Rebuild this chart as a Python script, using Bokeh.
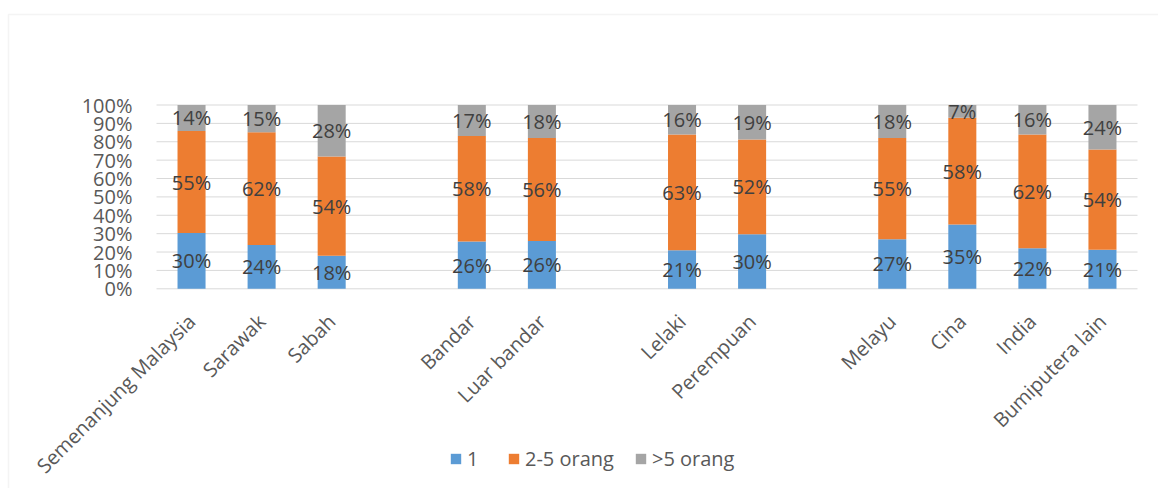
from bokeh.plotting import figure
from bokeh.models import (ColumnDataSource, FixedTicker, NumeralTickFormatter,
                          Legend, LegendItem, LabelSet, BoxAnnotation, Range1d)
from bokeh.core.properties import value
from bokeh.embed import file_html
from bokeh.resources import INLINE

# Household size shares (%) by breakdown
regions = ["Semenanjung Malaysia", "Sarawak", "Sabah"]
strata = ["Bandar", "Luar bandar"]
sexes = ["Lelaki", "Perempuan"]
ethnicities = ["Melayu", "Cina", "India", "Bumiputera lain"]

one_person = [30, 24, 18, 26, 26, 21, 30, 27, 35, 22, 21]
two_to_five = [55, 62, 54, 58, 56, 63, 52, 55, 58, 62, 54]
over_five = [14, 15, 28, 17, 18, 16, 19, 18, 7, 16, 24]

series_names = ["1", "2-5 orang", ">5 orang"]
y_ticks = [0.0, 0.1, 0.2, 0.3, 0.4, 0.5, 0.6, 0.7, 0.8, 0.9, 1.0]

# Slot positions: one empty slot between groups
groups = [regions, strata, sexes, ethnicities]
categories, xs = [], []
slot = 0
for g in groups:
    for c in g:
        categories.append(c)
        xs.append(slot)
        slot += 1
    slot += 1
x_lo, x_hi = -0.5, xs[-1] + 0.5

# Canvas geometry: the frame fills the whole canvas, the plot area sits inside
W, H = 1158, 488
AREA_L, AREA_R, AREA_T, AREA_B = 156, 1137, 104.5, 288.3
ppx = (AREA_R - AREA_L) / (x_hi - x_lo)
ppy = AREA_B - AREA_T
x_range = Range1d(x_lo - AREA_L / ppx, x_hi + (W - AREA_R) / ppx)
y_range = Range1d(-(H - AREA_B) / ppy, 1 + AREA_T / ppy)

# 100% stacking
totals = [a + b + c for a, b, c in zip(one_person, two_to_five, over_five)]
f1 = [a / t for a, t in zip(one_person, totals)]
f2 = [b / t for b, t in zip(two_to_five, totals)]
f3 = [c / t for c, t in zip(over_five, totals)]
top1 = f1
top2 = [a + b for a, b in zip(f1, f2)]
top3 = [a + b + c for a, b, c in zip(f1, f2, f3)]

src = ColumnDataSource(dict(
    x=xs,
    b0=[0.0] * len(xs), t1=top1, t2=top2, t3=top3,
    m1=[t / 2 for t in top1],
    m2=[(a + b) / 2 for a, b in zip(top1, top2)],
    m3=[(a + b) / 2 for a, b in zip(top2, top3)],
    l1=[f"{v}%" for v in one_person],
    l2=[f"{v}%" for v in two_to_five],
    l3=[f"{v}%" for v in over_five],
))

FONT = "Open Sans"
colors = ["#5B9BD5", "#ED7D31", "#A5A5A5"]

p = figure(width=W, height=H, output_backend="svg", toolbar_location=None,
           x_range=x_range, y_range=y_range,
           min_border=0, min_border_left=0, min_border_right=0,
           min_border_top=0, min_border_bottom=0)
p.outline_line_color = None
p.background_fill_color = "white"
p.border_fill_color = "white"
p.xgrid.grid_line_color = None
p.ygrid.grid_line_color = None

# Horizontal gridlines across the plot area
p.segment(x0=[x_lo] * len(y_ticks), x1=[x_hi] * len(y_ticks),
          y0=y_ticks, y1=y_ticks, line_color="#D9D9D9", line_width=1)

r1 = p.vbar(x="x", bottom="b0", top="t1", width=0.4, source=src,
            fill_color=colors[0], line_color=None)
r2 = p.vbar(x="x", bottom="t1", top="t2", width=0.4, source=src,
            fill_color=colors[1], line_color=None)
r3 = p.vbar(x="x", bottom="t2", top="t3", width=0.4, source=src,
            fill_color=colors[2], line_color=None)

for ycol, tcol in (("m1", "l1"), ("m2", "l2"), ("m3", "l3")):
    p.add_layout(LabelSet(x="x", y=ycol, text=tcol, source=src,
                          text_align="center", text_baseline="middle",
                          text_font=value(FONT), text_font_size="20px",
                          text_color="#404040"))

# Axes pinned to the plot area
p.yaxis.fixed_location = x_lo
p.yaxis.ticker = FixedTicker(ticks=y_ticks)
p.yaxis.formatter = NumeralTickFormatter(format="0%")
p.yaxis.axis_line_color = None
p.yaxis.major_tick_line_color = None
p.yaxis.minor_tick_line_color = None
p.yaxis.major_tick_out = 0
p.yaxis.major_tick_in = 0
p.yaxis.major_label_standoff = 24
p.yaxis.major_label_text_font = FONT
p.yaxis.major_label_text_font_size = "20px"
p.yaxis.major_label_text_color = "#595959"

p.xaxis.fixed_location = 0
p.xaxis.bounds = (x_lo, x_hi)
p.xaxis.ticker = FixedTicker(ticks=xs)
p.xaxis.major_label_overrides = {x: c for x, c in zip(xs, categories)}
p.xaxis.major_label_orientation = 0.7853981633974483
p.xaxis.axis_line_color = None
p.xaxis.major_tick_line_color = None
p.xaxis.minor_tick_line_color = None
p.xaxis.major_tick_out = 0
p.xaxis.major_tick_in = 0
p.xaxis.major_label_standoff = 29
p.xaxis.major_label_text_font = FONT
p.xaxis.major_label_text_font_size = "20px"
p.xaxis.major_label_text_color = "#595959"

legend = Legend(items=[LegendItem(label=n, renderers=[r]) for n, r in
                       zip(series_names, (r1, r2, r3))],
                orientation="horizontal", location=(449, 16),
                glyph_width=13, glyph_height=13, label_standoff=5, spacing=20,
                padding=0, margin=0, border_line_color=None,
                background_fill_alpha=0,
                label_text_font=FONT, label_text_font_size="20px",
                label_text_color="#595959")
p.add_layout(legend, "center")

# Chart-area border
p.add_layout(BoxAnnotation(left=8, top=14, right=W + 20, bottom=H + 20,
                           left_units="canvas", right_units="canvas",
                           top_units="canvas", bottom_units="canvas",
                           fill_alpha=0, line_color="#D9D9D9", line_width=1.5))

with open("out.html", "w") as fh:
    fh.write(file_html(p, INLINE))
